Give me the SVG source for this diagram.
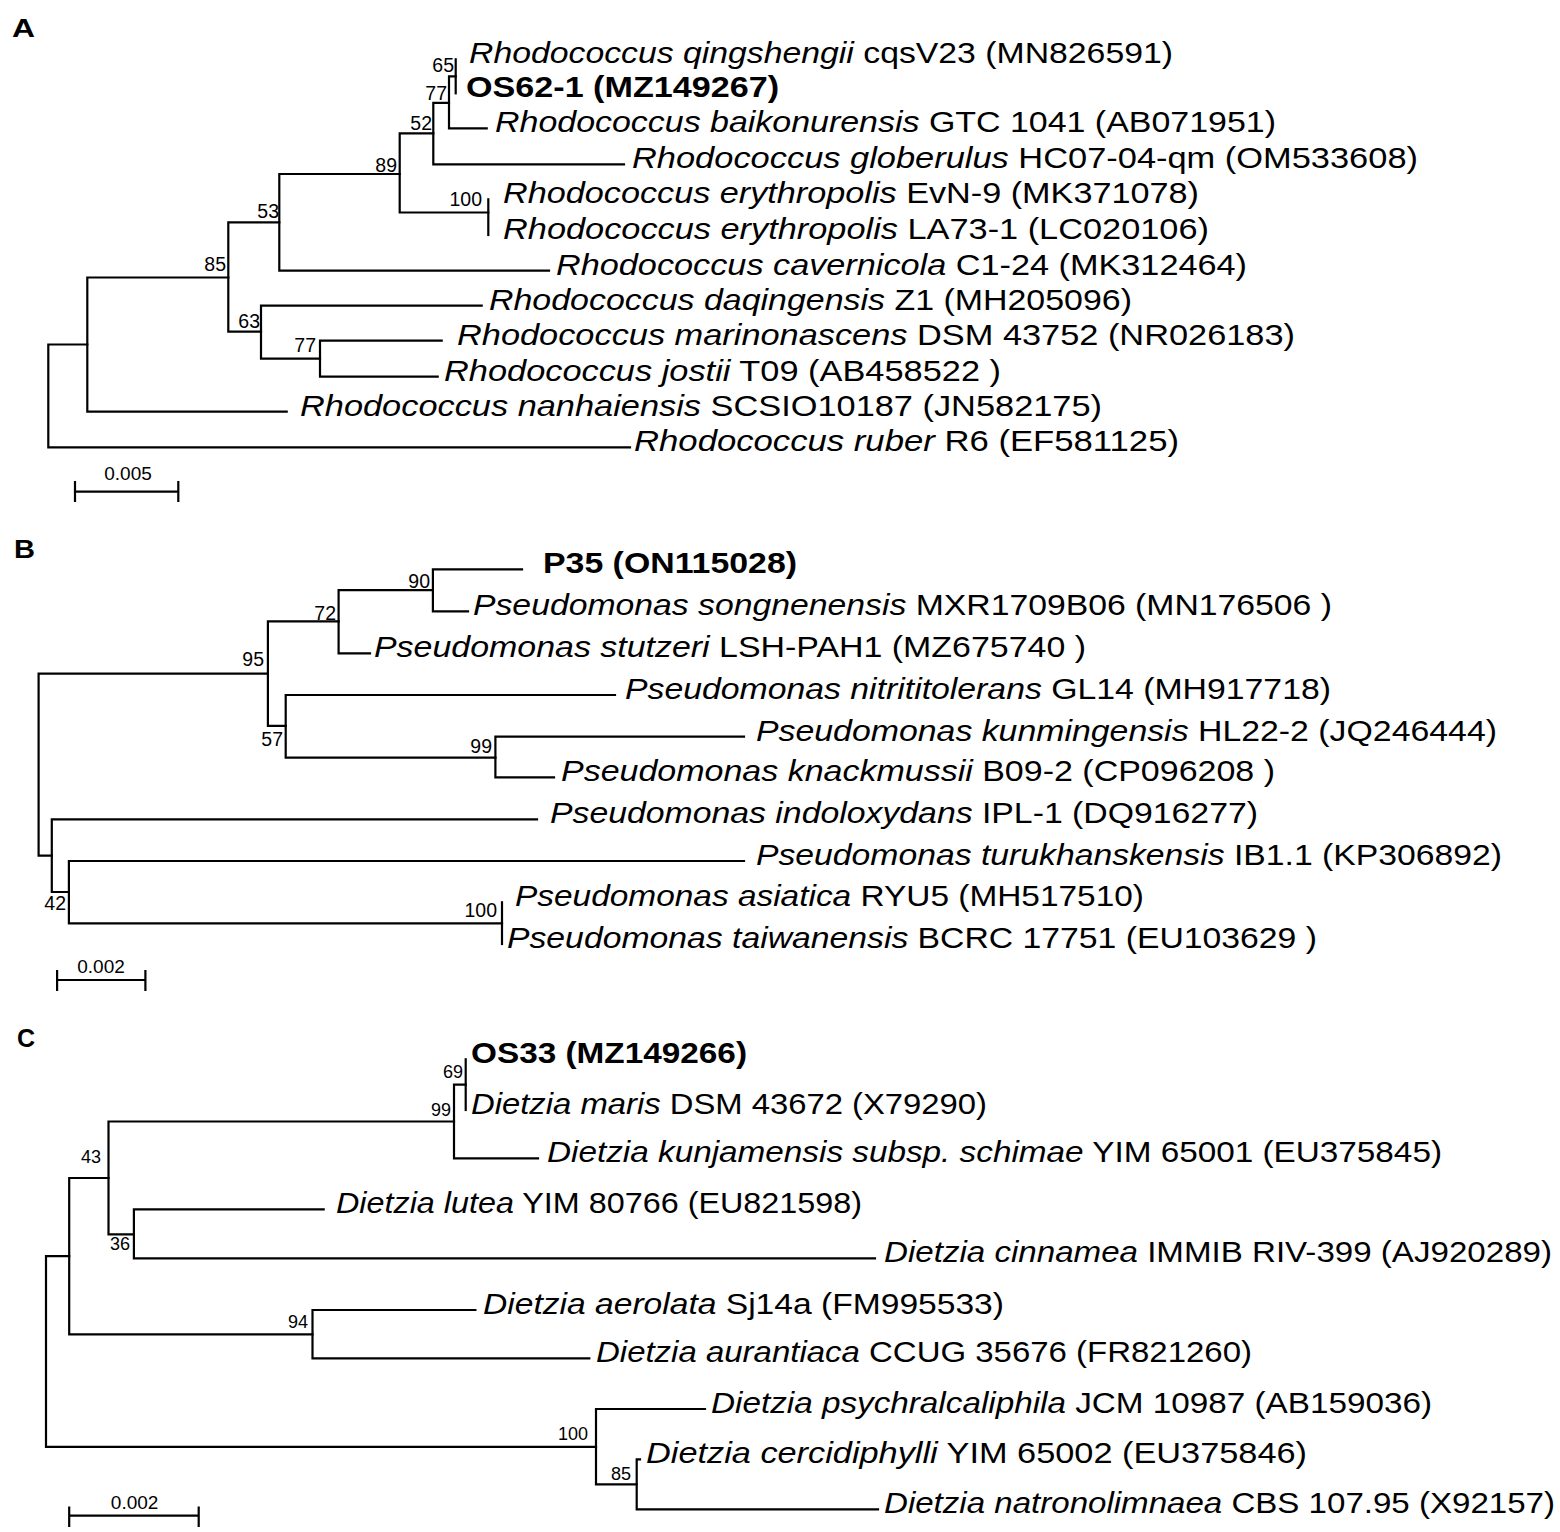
<svg xmlns="http://www.w3.org/2000/svg" width="1560" height="1532" viewBox="0 0 1560 1532">
<style>
text{font-family:"Liberation Sans",Arial,sans-serif;fill:#000}
.nm{font-size:29.5px}
.b{font-weight:bold}
.i{font-style:italic}
.bs{font-size:19.5px;text-anchor:end}
.bsc{font-size:18px;text-anchor:end}
.sc{font-size:19px;text-anchor:middle}
.pl{font-size:25px;font-weight:bold}
.ln{stroke:#000;stroke-width:2.2;fill:none;stroke-linecap:square}
</style>
<rect width="1560" height="1532" fill="#fff"/>
<g id="connectors" class="ln">
<path d="M48.3 344.5V447.3M48.3 344.5H87.3M48.3 447.3H630"/>
<path d="M87.3 277.5V411.7M87.3 277.5H228.3M87.3 411.7H286.7"/>
<path d="M228.3 222.3V331.7M228.3 222.3H279.3M228.3 331.7H261"/>
<path d="M279.3 174V270.7M279.3 174H399.7M279.3 270.7H549"/>
<path d="M399.7 133.3V212.5M399.7 133.3H433.3M399.7 212.5H488.3"/>
<path d="M433.3 102.8V164.3M433.3 102.8H449M433.3 164.3H624"/>
<path d="M449 76.4V128.3M449 76.4H455.7M449 128.3H486.7"/>
<path d="M455.7 59.3V93.3"/>
<path d="M488.3 199.3V235"/>
<path d="M261 305.7V358.7M261 305.7H481.7M261 358.7H320"/>
<path d="M320 340.7V376.7M320 340.7H441.7M320 376.7H437.7"/>
<path d="M75 491.7H178.3M75 482V501M178.3 482V501"/>
<path d="M38.6 673.6V855.7M38.6 673.6H267.9M38.6 855.7H51.8"/>
<path d="M267.9 621.4V725.9M267.9 621.4H338.6M267.9 725.9H285.7"/>
<path d="M338.6 590.1V653.3M338.6 590.1H432.9M338.6 653.3H370"/>
<path d="M432.9 569.3V611.3M432.9 569.3H522M432.9 611.3H468"/>
<path d="M285.7 695V757.6M285.7 695H615M285.7 757.6H495.4"/>
<path d="M495.4 736.7V777.3M495.4 736.7H744M495.4 777.3H554"/>
<path d="M51.8 819.3V892M51.8 819.3H537M51.8 892H68.9"/>
<path d="M68.9 861V923.3M68.9 861H744M68.9 923.3H502"/>
<path d="M502 902.3V944"/>
<path d="M57.1 980H145.4M57.1 971V990M145.4 971V990"/>
<path d="M46 1256.2V1446.8M46 1256.2H69.2M46 1446.8H596"/>
<path d="M69.2 1178V1334.3M69.2 1178H108.5M69.2 1334.3H312.5"/>
<path d="M108.5 1121.5V1234.3M108.5 1121.5H454M108.5 1234.3H133.9"/>
<path d="M454 1084.6V1158.3M454 1084.6H465.7M454 1158.3H538"/>
<path d="M465.7 1059.3V1110"/>
<path d="M133.9 1209.3V1258.3M133.9 1209.3H323.7M133.9 1258.3H875"/>
<path d="M312.5 1310V1358.3M312.5 1310H475.4M312.5 1358.3H589.3"/>
<path d="M596 1409V1484.3M596 1409H705M596 1484.3H636.7"/>
<path d="M636.7 1459.3V1509.3M636.7 1459.3H640M636.7 1509.3H878"/>
<path d="M69.2 1515.7H198.7M69.2 1507.7V1526M198.7 1507.7V1526"/>
</g>
<g id="panel-labels">
<text class="pl" x="12" y="37" textLength="23" lengthAdjust="spacingAndGlyphs">A</text>
<text class="pl" x="14" y="558" textLength="21" lengthAdjust="spacingAndGlyphs">B</text>
<text class="pl" x="17" y="1047">C</text>
</g>
<g id="scale-labels">
<text class="sc" x="128" y="480">0.005</text>
<text class="sc" x="101" y="973">0.002</text>
<text class="sc" x="134.6" y="1509">0.002</text>
</g>
<g id="bootstrap">
<text class="bs" x="454" y="72">65</text>
<text class="bs" x="447" y="100">77</text>
<text class="bs" x="432" y="130">52</text>
<text class="bs" x="397" y="172">89</text>
<text class="bs" x="482" y="206">100</text>
<text class="bs" x="279" y="218">53</text>
<text class="bs" x="226" y="271">85</text>
<text class="bs" x="260" y="328">63</text>
<text class="bs" x="316" y="352">77</text>
<text class="bs" x="430" y="588">90</text>
<text class="bs" x="336" y="620">72</text>
<text class="bs" x="264" y="666">95</text>
<text class="bs" x="283" y="746">57</text>
<text class="bs" x="492" y="753">99</text>
<text class="bs" x="66" y="910">42</text>
<text class="bs" x="497" y="917">100</text>
<text class="bsc" x="463" y="1078">69</text>
<text class="bsc" x="451" y="1116">99</text>
<text class="bsc" x="101" y="1163">43</text>
<text class="bsc" x="130" y="1250">36</text>
<text class="bsc" x="308" y="1328">94</text>
<text class="bsc" x="588" y="1440">100</text>
<text class="bsc" x="631" y="1480">85</text>
</g>
<g id="A-qingshengii"><text class="nm" x="469" y="63.3" textLength="704" lengthAdjust="spacingAndGlyphs"><tspan class="i">Rhodococcus qingshengii</tspan>  cqsV23 (MN826591)</text></g>
<g id="A-OS62-1"><text class="nm b" x="466" y="97.3" textLength="313" lengthAdjust="spacingAndGlyphs">OS62-1 (MZ149267)</text></g>
<g id="A-baikonurensis"><text class="nm" x="495" y="132.3" textLength="781" lengthAdjust="spacingAndGlyphs"><tspan class="i">Rhodococcus baikonurensis</tspan> GTC 1041 (AB071951)</text></g>
<g id="A-globerulus"><text class="nm" x="632" y="168.3" textLength="786" lengthAdjust="spacingAndGlyphs"><tspan class="i">Rhodococcus globerulus</tspan>  HC07-04-qm (OM533608)</text></g>
<g id="A-erythropolis-1"><text class="nm" x="503" y="203.3" textLength="696" lengthAdjust="spacingAndGlyphs"><tspan class="i">Rhodococcus erythropolis</tspan>  EvN-9 (MK371078)</text></g>
<g id="A-erythropolis-2"><text class="nm" x="503" y="239" textLength="706" lengthAdjust="spacingAndGlyphs"><tspan class="i">Rhodococcus erythropolis</tspan>  LA73-1 (LC020106)</text></g>
<g id="A-cavernicola"><text class="nm" x="556" y="274.7" textLength="691" lengthAdjust="spacingAndGlyphs"><tspan class="i">Rhodococcus cavernicola</tspan>  C1-24 (MK312464)</text></g>
<g id="A-daqingensis"><text class="nm" x="489" y="309.7" textLength="643" lengthAdjust="spacingAndGlyphs"><tspan class="i">Rhodococcus daqingensis</tspan> Z1 (MH205096)</text></g>
<g id="A-marinonascens"><text class="nm" x="457" y="344.7" textLength="838" lengthAdjust="spacingAndGlyphs"><tspan class="i">Rhodococcus marinonascens</tspan>  DSM 43752 (NR026183)</text></g>
<g id="A-jostii"><text class="nm" x="444" y="380.7" textLength="557" lengthAdjust="spacingAndGlyphs"><tspan class="i">Rhodococcus jostii</tspan>  T09 (AB458522 )</text></g>
<g id="A-nanhaiensis"><text class="nm" x="300" y="415.7" textLength="802" lengthAdjust="spacingAndGlyphs"><tspan class="i">Rhodococcus nanhaiensis</tspan>  SCSIO10187 (JN582175)</text></g>
<g id="A-ruber"><text class="nm" x="634" y="451.3" textLength="545" lengthAdjust="spacingAndGlyphs"><tspan class="i">Rhodococcus ruber</tspan>  R6 (EF581125)</text></g>
<g id="B-P35"><text class="nm b" x="543" y="573.3" textLength="254" lengthAdjust="spacingAndGlyphs">P35 (ON115028)</text></g>
<g id="B-songnenensis"><text class="nm" x="473" y="615.3" textLength="859" lengthAdjust="spacingAndGlyphs"><tspan class="i">Pseudomonas songnenensis</tspan>  MXR1709B06 (MN176506 )</text></g>
<g id="B-stutzeri"><text class="nm" x="374" y="657.3" textLength="712" lengthAdjust="spacingAndGlyphs"><tspan class="i">Pseudomonas stutzeri</tspan>  LSH-PAH1 (MZ675740 )</text></g>
<g id="B-nitrititolerans"><text class="nm" x="625" y="699" textLength="706" lengthAdjust="spacingAndGlyphs"><tspan class="i">Pseudomonas nitrititolerans</tspan>  GL14 (MH917718)</text></g>
<g id="B-kunmingensis"><text class="nm" x="756" y="740.7" textLength="741" lengthAdjust="spacingAndGlyphs"><tspan class="i">Pseudomonas kunmingensis</tspan>  HL22-2 (JQ246444)</text></g>
<g id="B-knackmussii"><text class="nm" x="561" y="781.3" textLength="714" lengthAdjust="spacingAndGlyphs"><tspan class="i">Pseudomonas knackmussii</tspan>  B09-2 (CP096208 )</text></g>
<g id="B-indoloxydans"><text class="nm" x="550" y="823.3" textLength="708" lengthAdjust="spacingAndGlyphs"><tspan class="i">Pseudomonas indoloxydans</tspan>  IPL-1 (DQ916277)</text></g>
<g id="B-turukhanskensis"><text class="nm" x="756" y="865" textLength="746" lengthAdjust="spacingAndGlyphs"><tspan class="i">Pseudomonas turukhanskensis</tspan>  IB1.1 (KP306892)</text></g>
<g id="B-asiatica"><text class="nm" x="515" y="906.3" textLength="629" lengthAdjust="spacingAndGlyphs"><tspan class="i">Pseudomonas asiatica</tspan> RYU5 (MH517510)</text></g>
<g id="B-taiwanensis"><text class="nm" x="507" y="948" textLength="810" lengthAdjust="spacingAndGlyphs"><tspan class="i">Pseudomonas taiwanensis</tspan>  BCRC 17751 (EU103629 )</text></g>
<g id="C-OS33"><text class="nm b" x="471" y="1063.3" textLength="276" lengthAdjust="spacingAndGlyphs">OS33 (MZ149266)</text></g>
<g id="C-maris"><text class="nm" x="471" y="1114" textLength="516" lengthAdjust="spacingAndGlyphs"><tspan class="i">Dietzia maris</tspan> DSM 43672 (X79290)</text></g>
<g id="C-kunjamensis"><text class="nm" x="547" y="1162.3" textLength="895" lengthAdjust="spacingAndGlyphs"><tspan class="i">Dietzia kunjamensis subsp. schimae</tspan> YIM 65001 (EU375845)</text></g>
<g id="C-lutea"><text class="nm" x="336" y="1213.3" textLength="526" lengthAdjust="spacingAndGlyphs"><tspan class="i">Dietzia lutea</tspan> YIM 80766 (EU821598)</text></g>
<g id="C-cinnamea"><text class="nm" x="884" y="1262.3" textLength="668" lengthAdjust="spacingAndGlyphs"><tspan class="i">Dietzia cinnamea</tspan> IMMIB RIV-399 (AJ920289)</text></g>
<g id="C-aerolata"><text class="nm" x="483" y="1314" textLength="521" lengthAdjust="spacingAndGlyphs"><tspan class="i">Dietzia aerolata</tspan> Sj14a  (FM995533)</text></g>
<g id="C-aurantiaca"><text class="nm" x="596" y="1362.3" textLength="656" lengthAdjust="spacingAndGlyphs"><tspan class="i">Dietzia aurantiaca</tspan> CCUG 35676  (FR821260)</text></g>
<g id="C-psychralcaliphila"><text class="nm" x="711" y="1413" textLength="721" lengthAdjust="spacingAndGlyphs"><tspan class="i">Dietzia psychralcaliphila</tspan> JCM 10987  (AB159036)</text></g>
<g id="C-cercidiphylli"><text class="nm" x="646" y="1463.3" textLength="661" lengthAdjust="spacingAndGlyphs"><tspan class="i">Dietzia cercidiphylli</tspan> YIM 65002  (EU375846)</text></g>
<g id="C-natronolimnaea"><text class="nm" x="884" y="1513.3" textLength="671" lengthAdjust="spacingAndGlyphs"><tspan class="i">Dietzia natronolimnaea</tspan> CBS 107.95  (X92157)</text></g>
</svg>
